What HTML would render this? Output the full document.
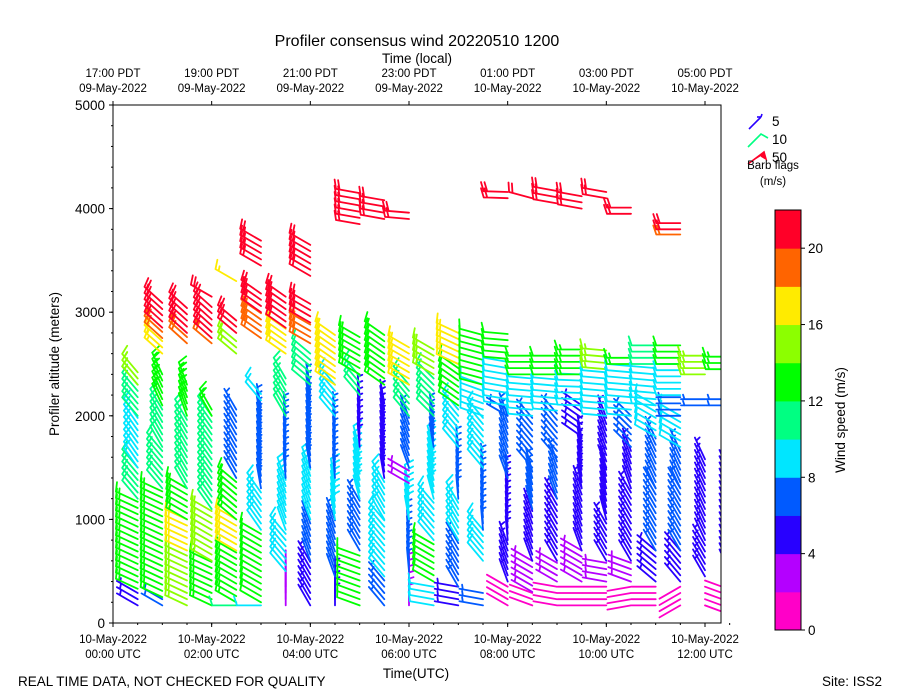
<!DOCTYPE html>
<html><head><meta charset="utf-8"><style>
body{margin:0;background:#fff;}
svg{display:block;font-family:"Liberation Sans","DejaVu Sans",sans-serif;}
</style></head><body>
<svg id="chart" width="900" height="700" viewBox="0 0 900 700" xmlns="http://www.w3.org/2000/svg">
<defs><clipPath id="plotclip"><rect x="113" y="105" width="608" height="518"/></clipPath></defs>
<text x="417" y="46" font-size="16" text-anchor="middle">Profiler consensus wind 20220510 1200</text>
<text x="417" y="63" font-size="13.5" text-anchor="middle">Time (local)</text>
<g id="barbs" clip-path="url(#plotclip)"></g>
<rect x="113" y="105" width="608" height="518" fill="none" stroke="#000" stroke-width="1"/>
<g id="axes"></g>
<text x="416" y="678" font-size="13.5" text-anchor="middle">Time(UTC)</text>
<text transform="translate(59,364) rotate(-90)" font-size="13.5" text-anchor="middle">Profiler altitude (meters)</text>
<text x="18" y="686" font-size="13.5">REAL TIME DATA, NOT CHECKED FOR QUALITY</text>
<text x="882" y="686" font-size="13.5" text-anchor="end">Site: ISS2</text>
<g id="legend">
<line x1="749" y1="129" x2="761" y2="117" stroke="#2800ff" stroke-width="1.6"/><line x1="761" y1="117" x2="757" y2="117" stroke="#2800ff" stroke-width="1.6"/><line x1="761" y1="117" x2="762" y2="114" stroke="#2800ff" stroke-width="1.6"/>
<text x="772" y="126" font-size="13.5">5</text>
<polyline points="748,147 761,134 768,138" fill="none" stroke="#00ff82" stroke-width="1.6"/>
<text x="772" y="144" font-size="13.5">10</text>
<polyline points="748,164 760,155 764,152 766,159 761,156" fill="#ff0028" stroke="#ff0028" stroke-width="1.6"/>
<text x="772" y="162" font-size="13.5">50</text>
<text x="773" y="169" font-size="11.5" text-anchor="middle">Barb flags</text>
<text x="773" y="185" font-size="11.5" text-anchor="middle">(m/s)</text>
</g>
<g id="cbar"></g>
<text transform="translate(845,420) rotate(-90)" font-size="13.5" text-anchor="middle">Wind speed (m/s)</text>
</svg>
<script>
// ---- data ----
const times = [0.5,1,1.5,2,2.5,3,3.5,4,4.5,5,5.5,6,6.5,7,7.5,8,8.5,9,9.5,10,10.5,11,11.5,12,12.5];
// segments per column: [heightStart, heightEnd, speed m/s, direction deg]
const segs = [
 [[170,300,5,300],[330,1200,13,295],[1200,1500,11,320],[1500,2000,9,325],[2000,2300,11,320],[2300,2450,15,320]],
 [[170,250,6,300],[250,1300,13,295],[1300,1700,11,320],[1700,2100,10,330],[2100,2450,13,335],[2600,2750,17,312],[2750,2850,19,312],[2850,3100,21,312]],
 [[170,700,14,295],[700,1000,17,295],[1000,1300,13,300],[1300,2000,11,330],[2000,2300,13,340],[2700,2800,19,312],[2800,3050,21,312]],
 [[170,600,13,295],[600,1100,15,300],[1100,2000,11,325],[2000,2100,13,330],[2700,2750,19,310],[2750,3050,21,312],[3150,3200,21,300]],
 [[170,200,10,270],[200,700,13,300],[700,1000,17,300],[1000,1400,13,310],[1400,2100,7,330],[2600,2750,15,310],[2800,2950,21,310],[3300,3330,17,300]],
 [[170,200,9,270],[200,900,12,300],[900,1300,9,325],[1300,2100,7,350],[2150,2250,9,320],[2750,3000,18,305],[3000,3200,21,305],[3450,3700,21,300]],
 [[170,500,2,0],[500,900,8,320],[900,1400,9,340],[1400,2000,6,355],[2000,2400,10,330],[2600,2850,17,305],[2850,3200,21,305]],
 [[170,600,5,330],[600,1000,7,340],[1000,1500,9,340],[1500,2300,6,350],[2300,2600,10,310],[2700,2900,18,300],[2900,3100,21,300],[3350,3700,21,300]],
 [[170,450,4,0],[450,1000,7,340],[1000,1400,9,350],[1400,2000,6,355],[2000,2300,9,320],[2300,2800,17,305]],
 [[170,700,12,290],[700,1200,6,330],[1200,1700,9,345],[1700,2200,5,355],[2200,2400,10,320],[2400,2800,13,300],[3850,4150,21,280]],
 [[170,450,6,320],[450,1000,9,320],[1000,1400,8,330],[1400,2150,5,350],[2300,2800,13,305],[3900,4100,21,280]],
 [[170,500,3,0],[500,1000,6,355],[1000,1300,9,350],[1350,1500,3,300],[1500,2000,6,340],[2000,2300,10,320],[2300,2700,16,300],[3900,4000,21,275]],
 [[170,400,8,280],[400,800,12,300],[800,1200,9,320],[1200,1700,9,345],[1700,2000,6,350],[2000,2400,11,315],[2400,2650,15,300]],
 [[170,350,5,280],[350,800,6,330],[800,1200,8,330],[1200,1700,6,355],[1700,2100,9,320],[2100,2500,12,305],[2500,2800,16,295]],
 [[170,300,6,280],[600,900,8,320],[900,1500,6,355],[1500,2000,9,320],[2000,2300,9,290],[2300,2800,12,285]],
 [[170,400,1.5,300],[400,800,4,340],[800,1400,5,355],[1400,2000,6,340],[2000,2100,6,300],[2100,2550,9,280],[2550,2800,12,275],[4100,4200,21,272]],
 [[170,300,1,290],[300,600,3,300],[600,1100,5,340],[1100,1500,6,345],[1500,2000,6,320],[2000,2400,9,275],[2400,2600,12,270],[4100,4150,21,285]],
 [[170,400,1.5,280],[400,600,3,300],[600,1200,5,330],[1200,1600,6,340],[1600,2050,6,320],[2050,2400,8,275],[2400,2600,12,270],[4050,4200,21,280]],
 [[170,400,1.5,270],[400,700,3,300],[700,1300,5,340],[1300,1800,5,350],[1800,2100,5,305],[2100,2400,9,272],[2400,2650,13,270],[4000,4150,21,280]],
 [[170,400,1.5,270],[400,600,3,280],[600,1000,5,330],[1000,1500,4,345],[1500,2000,4,340],[2000,2450,9,275],[2450,2650,14,275],[4100,4200,21,280]],
 [[170,400,1.5,260],[400,600,3,290],[600,1300,5,330],[1300,1700,5,340],[1700,2000,6,315],[2000,2500,9,275],[2500,2600,13,270],[3950,4050,21,270]],
 [[170,400,1.5,270],[400,700,5,310],[700,1300,6,330],[1300,1800,7,335],[1800,2100,9,300],[2100,2500,9,275],[2500,2700,10,270]],
 [[170,400,1.5,240],[400,700,4,320],[700,1300,6,330],[1300,1700,7,335],[1700,2000,9,300],[2000,2200,6,270],[2200,2500,9,270],[2500,2700,12,270],[3750,3800,19,270],[3800,3900,21,270]],
 [[170,450,1.5,110],[450,800,4,330],[800,1600,5,335],[2100,2200,6,270],[2400,2600,14,270]],
 [[500,1500,5,335],[2100,2200,6,270],[2450,2600,13,270]]
];
const cbColors = ["#ff00c8","#b400ff","#2800ff","#005aff","#00e6ff","#00ff82","#00ff00","#8cff00","#ffeb00","#ff6400","#ff0028"];
const yTicks = [0,1000,2000,3000,4000,5000];
const xTickHours = [0,2,4,6,8,10,12];
const utcLabels = [["10-May-2022","00:00 UTC"],["10-May-2022","02:00 UTC"],["10-May-2022","04:00 UTC"],["10-May-2022","06:00 UTC"],["10-May-2022","08:00 UTC"],["10-May-2022","10:00 UTC"],["10-May-2022","12:00 UTC"]];
const localLabels = [["17:00 PDT","09-May-2022"],["19:00 PDT","09-May-2022"],["21:00 PDT","09-May-2022"],["23:00 PDT","09-May-2022"],["01:00 PDT","10-May-2022"],["03:00 PDT","10-May-2022"],["05:00 PDT","10-May-2022"]];
const cbTicks = [0,4,8,12,16,20];

// ---- scales ----
const X0=113, PXH=49.333, Y0=623, PXM=518/5000;
const xs = h => X0 + h*PXH;
const ys = m => Y0 - m*PXM;
const colorOf = s => cbColors[Math.max(0,Math.min(10,Math.floor(s/2)))];
const NS="http://www.w3.org/2000/svg";
function mk(tag, attrs, parent){const e=document.createElementNS(NS,tag);for(const k in attrs)e.setAttribute(k,attrs[k]);parent.appendChild(e);return e;}

// ---- barbs ----
const bg = document.getElementById('barbs');
const GATE=60, L=24;
times.forEach((t,ci)=>{
  segs[ci].forEach(sg=>{
    const [h0,h1,spd,dir]=sg;
    for(let h=h0; h<=h1+1; h+=GATE){
      const ox=xs(t), oy=ys(h);
      const r=dir*Math.PI/180, ux=Math.sin(r), uy=-Math.cos(r);
      const px=-uy, py=ux;
      const tx=ox+ux*L, ty=oy+uy*L;
      const col=colorOf(spd);
      let d=`M${ox.toFixed(1)},${oy.toFixed(1)}L${tx.toFixed(1)},${ty.toFixed(1)}`;
      const n=Math.round(spd/5), full=Math.floor(n/2), half=n%2;
      let pos=0;
      for(let i=0;i<full;i++){const bx=tx-ux*pos, by=ty-uy*pos;d+=`M${bx.toFixed(1)},${by.toFixed(1)}l${(px*9+ux*3).toFixed(1)},${(py*9+uy*3).toFixed(1)}`;pos+=3.5;}
      if(half){if(full===0)pos=3.5;const bx=tx-ux*pos, by=ty-uy*pos;d+=`M${bx.toFixed(1)},${by.toFixed(1)}l${(px*4.5+ux*1.5).toFixed(1)},${(py*4.5+uy*1.5).toFixed(1)}`;}
      const p=mk('path',{d:d,stroke:col,'stroke-width':1.8,fill:'none','stroke-linecap':'round'},bg);
      
      
    }
  });
});

// ---- axes ----
const ax=document.getElementById('axes');
yTicks.forEach(v=>{
  mk('line',{x1:109,x2:113,y1:ys(v),y2:ys(v),stroke:'#000'},ax);
  const tx=mk('text',{x:105,y:ys(v)+5,'font-size':13.5,'text-anchor':'end'},ax);tx.textContent=v;
  
  
});
for(let m=0;m<=5000;m+=200){mk('line',{x1:111,x2:113,y1:ys(m),y2:ys(m),stroke:'#000'},ax);}
for(let h=0;h<=12.5;h+=0.5){mk('line',{x1:xs(h),x2:xs(h),y1:623,y2:625,stroke:'#000'},ax);}
xTickHours.forEach((h,i)=>{
  const x=xs(h);
  mk('line',{x1:x,x2:x,y1:623,y2:627,stroke:'#000'},ax);
  mk('line',{x1:x,x2:x,y1:101,y2:105,stroke:'#000'},ax);
  const a=mk('text',{x:x,y:643,'font-size':11.5,'text-anchor':'middle'},ax);a.textContent=utcLabels[i][0];
  
  
  const b=mk('text',{x:x,y:658,'font-size':11.5,'text-anchor':'middle'},ax);b.textContent=utcLabels[i][1];
  
  
  const c=mk('text',{x:x,y:77,'font-size':11.5,'text-anchor':'middle'},ax);c.textContent=localLabels[i][0];
  
  
  const e=mk('text',{x:x,y:92,'font-size':11.5,'text-anchor':'middle'},ax);e.textContent=localLabels[i][1];
  
  
});

// ---- colorbar ----
const cb=document.getElementById('cbar');
const CBX=775, CBW=26, CBT=210, CBB=630, bh=(CBB-CBT)/cbColors.length;
cbColors.forEach((c,i)=>{
  const r=mk('rect',{x:CBX,y:CBB-(i+1)*bh,width:CBW,height:bh+0.5,fill:c},cb);
  
  
});
mk('rect',{x:CBX,y:CBT,width:CBW,height:CBB-CBT,fill:'none',stroke:'#000'},cb);
cbTicks.forEach(v=>{
  const y=CBB-v/22*(CBB-CBT);
  mk('line',{x1:CBX+CBW,x2:CBX+CBW+4,y1:y,y2:y,stroke:'#000'},cb);
  const t=mk('text',{x:CBX+CBW+7,y:y+5,'font-size':13.5},cb);t.textContent=v;
  
  
});
</script>
</body></html>
